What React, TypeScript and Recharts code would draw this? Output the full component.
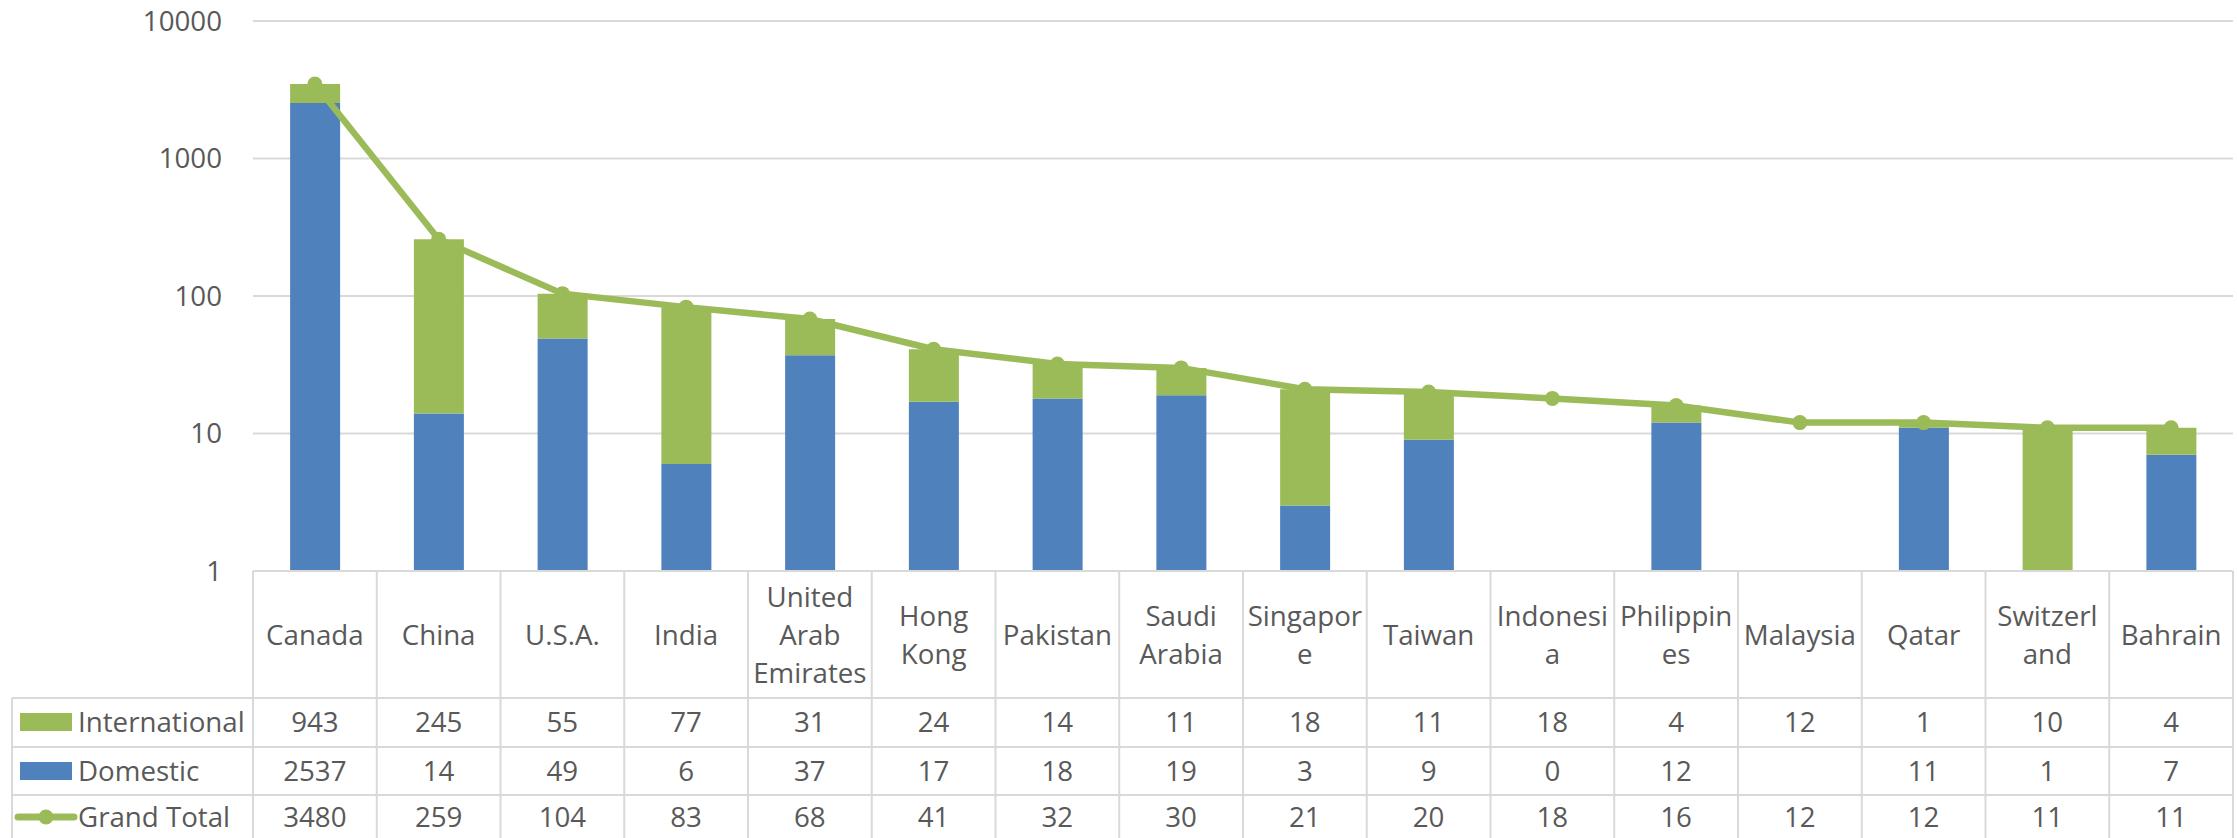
import { ComposedChart, Bar, Line, XAxis, YAxis, CartesianGrid } from "recharts"

const countries = ["Canada", "China", "U.S.A.", "India", "United Arab Emirates", "Hong Kong", "Pakistan", "Saudi Arabia", "Singapore", "Taiwan", "Indonesia", "Philippines", "Malaysia", "Qatar", "Switzerland", "Bahrain"]
// names as Excel wrapped them in the data table header
const headerLines = [["Canada"], ["China"], ["U.S.A."], ["India"], ["United", "Arab", "Emirates"], ["Hong", "Kong"], ["Pakistan"], ["Saudi", "Arabia"], ["Singapor", "e"], ["Taiwan"], ["Indonesi", "a"], ["Philippin", "es"], ["Malaysia"], ["Qatar"], ["Switzerl", "and"], ["Bahrain"]]
const international = [943, 245, 55, 77, 31, 24, 14, 11, 18, 11, 18, 4, 12, 1, 10, 4]
const domestic: (number | null)[] = [2537, 14, 49, 6, 37, 17, 18, 19, 3, 9, 0, 12, null, 11, 1, 7]
const grandTotal = [3480, 259, 104, 83, 68, 41, 32, 30, 21, 20, 18, 16, 12, 12, 11, 11]
const yTicks = [1, 10, 100, 1000, 10000]

const GREEN = "#9BBB59"
const BLUE = "#4F81BD"
const TEXT = "#595959"
const GRID = "#D9D9D9"
const FONT = "'Open Sans', sans-serif"
const FS = 27.7

const W = 2237
const H = 838
const PLOT_LEFT = 253
const PLOT_RIGHT = 2233
const PLOT_TOP = 21
const PLOT_BOTTOM = 571
const COL = (PLOT_RIGHT - PLOT_LEFT) / countries.length
// table rows, measured from the top of the table
const HEADER_MID = 64
const ROW_LINES = [127, 176, 224]
const ROW_MIDS = [151, 200, 246]

// Excel can't draw a stack on a log axis when the bottom segment is 0 or blank
const chartData = countries.map((c, i) => ({
    name: c,
    domestic: domestic[i] ? domestic[i] : null,
    international: domestic[i] ? international[i] : null,
    total: grandTotal[i],
}))

const fmt = (v: number | null) => (v == null ? "" : String(v))

function TableColumn(props: any) {
    const { x, y, payload } = props
    const i = payload.index
    const left = x - COL / 2
    const right = x + COL / 2
    const lines = headerLines[i]
    const top = HEADER_MID - ((lines.length - 1) * 38) / 2
    const values = [fmt(international[i]), fmt(domestic[i]), fmt(grandTotal[i])]
    return (
        <g>
            <line x1={left} x2={left} y1={y} y2={H} stroke={GRID} strokeWidth={2} />
            {i === countries.length - 1 && <line x1={right} x2={right} y1={y} y2={H} stroke={GRID} strokeWidth={2} />}
            {ROW_LINES.map((r) => (
                <line key={r} x1={left} x2={right} y1={y + r} y2={y + r} stroke={GRID} strokeWidth={2} />
            ))}
            {lines.map((t, k) => (
                <text key={k} x={x} y={y + top + k * 38} dy="0.35em" textAnchor="middle" fill={TEXT} fontSize={FS} fontFamily={FONT}>
                    {t}
                </text>
            ))}
            {values.map((v, k) => (
                <text key={k} x={x} y={y + ROW_MIDS[k]} dy="0.35em" textAnchor="middle" fill={TEXT} fontSize={FS} fontFamily={FONT}>
                    {v}
                </text>
            ))}
        </g>
    )
}

function LegendColumn() {
    const keys = [
        { label: "International", color: GREEN, kind: "bar" },
        { label: "Domestic", color: BLUE, kind: "bar" },
        { label: "Grand Total", color: GREEN, kind: "line" },
    ]
    return (
        <svg width={PLOT_LEFT} height={H - PLOT_BOTTOM} style={{ position: "absolute", left: 0, top: PLOT_BOTTOM }}>
            <line x1={12} x2={12} y1={ROW_LINES[0]} y2={H} stroke={GRID} strokeWidth={2} />
            {ROW_LINES.map((r) => (
                <line key={r} x1={12} x2={PLOT_LEFT} y1={r} y2={r} stroke={GRID} strokeWidth={2} />
            ))}
            {keys.map((k, idx) => {
                const cy = ROW_MIDS[idx]
                return (
                    <g key={k.label}>
                        {k.kind === "bar" ? (
                            <rect x={20} y={cy - 9} width={52} height={18} fill={k.color} />
                        ) : (
                            <g>
                                <line x1={18} x2={74} y1={cy} y2={cy} stroke={k.color} strokeWidth={7} strokeLinecap="round" />
                                <circle cx={46} cy={cy} r={7.5} fill={k.color} />
                            </g>
                        )}
                        <text x={78} y={cy} dy="0.35em" fill={TEXT} fontSize={FS} fontFamily={FONT}>
                            {k.label}
                        </text>
                    </g>
                )
            })}
        </svg>
    )
}

export default function App() {
    return (
        <div style={{ position: "absolute", left: 0, top: 0, width: W, height: H, background: "#fff" }}>
            <ComposedChart
                width={W}
                height={H}
                data={chartData}
                margin={{ top: PLOT_TOP, right: W - PLOT_RIGHT, left: 0, bottom: 0 }}
                barCategoryGap="30%"
            >
                <CartesianGrid vertical={false} stroke={GRID} strokeWidth={2} />
                <XAxis
                    dataKey="name"
                    height={H - PLOT_BOTTOM}
                    axisLine={{ stroke: GRID, strokeWidth: 2 }}
                    tickLine={false}
                    tickSize={0}
                    tickMargin={0}
                    interval={0}
                    tick={<TableColumn />}
                />
                <YAxis
                    scale="log"
                    domain={[1, 10000]}
                    allowDataOverflow
                    ticks={yTicks}
                    width={PLOT_LEFT}
                    axisLine={false}
                    tickLine={false}
                    tickSize={0}
                    tickMargin={31}
                    tick={{ fill: TEXT, fontSize: FS, fontFamily: FONT }}
                />
                <Bar dataKey="domestic" stackId="a" fill={BLUE} name="Domestic" isAnimationActive={false} />
                <Bar dataKey="international" stackId="a" fill={GREEN} name="International" isAnimationActive={false} />
                <Line
                    dataKey="total"
                    stroke={GREEN}
                    strokeWidth={6.5}
                    dot={{ r: 7.5, fill: GREEN, stroke: GREEN, strokeWidth: 0 }}
                    name="Grand Total"
                    isAnimationActive={false}
                />
            </ComposedChart>
            <LegendColumn />
        </div>
    )
}
